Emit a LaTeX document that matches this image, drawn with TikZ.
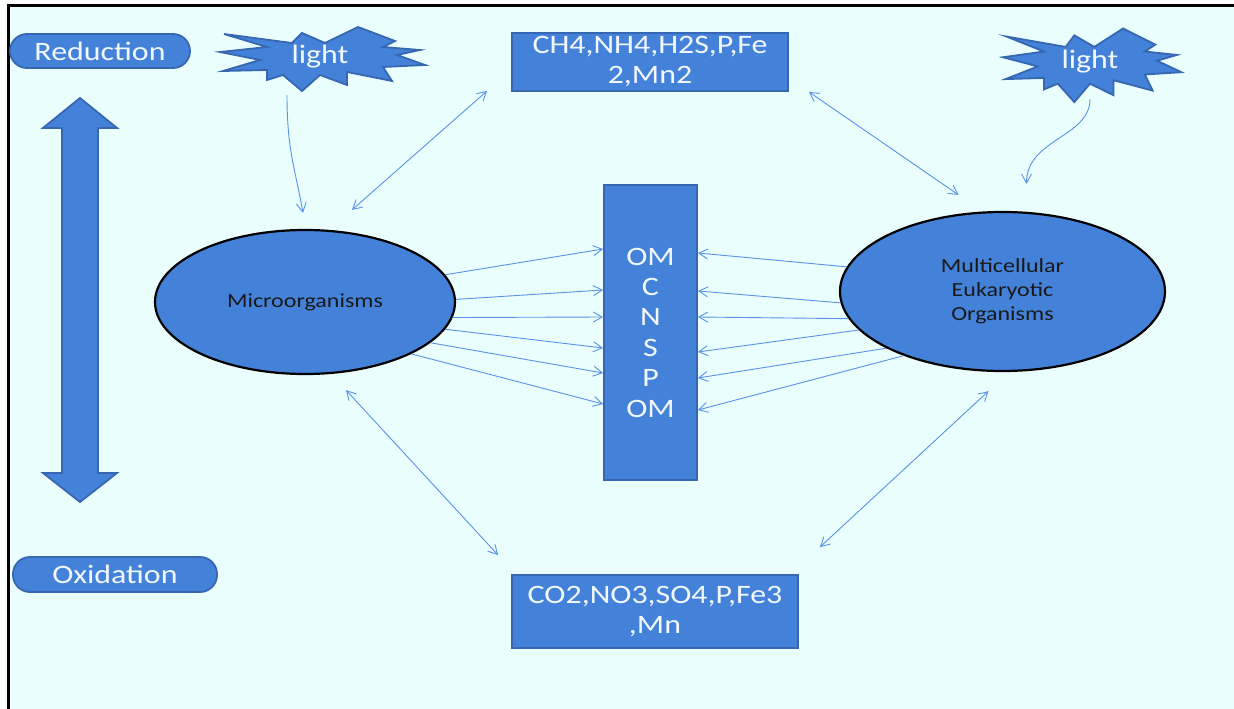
\documentclass[tikz,border=0pt]{standalone}
\usepackage{fontspec}
\setmainfont{Carlito}[FakeStretch=1.2]
\usetikzlibrary{arrows.meta,positioning,shapes.geometric}
\definecolor{sky}{HTML}{EBFEFE}
\definecolor{boxblue}{HTML}{4482DA}
\definecolor{boxedge}{HTML}{3667B0}
\definecolor{linkblue}{HTML}{5A92E6}
\definecolor{paletxt}{HTML}{F2F8FF}

\begin{document}
\begin{tikzpicture}[x=1pt, y=-1pt, >={Straight Barb[length=9pt,width=10pt]},
  box/.style = {draw=boxedge, line width=1.8pt, fill=boxblue, text=paletxt, align=center, inner sep=0pt, font=\fontsize{26.6}{30}\selectfont},
  pill/.style = {box, rounded corners=17pt},
  organism/.style = {ellipse, draw=black, line width=2.2pt, fill=boxblue, text=black!90, align=center, inner sep=0pt, font=\fontsize{20}{24}\selectfont},
  lighttext/.style = {text=paletxt, font=\fontsize{26.6}{30}\selectfont, minimum width=200pt},
  link/.style = {draw=linkblue, line width=0.9pt},
  burst/.pic = {\draw[boxedge, line width=1.8pt, fill=boxblue]
    (-96,-23) -- (-53,-10) -- (-100,-5) -- (-60,3) -- (-97,14) -- (-53,13) -- (-53,23) -- (-37,18)
    -- (-18,34) -- (0,18) -- (27,28) -- (27,15) -- (72,24) -- (63,10) -- (105,8) -- (77,-2)
    -- (100,-7) -- (63,-10) -- (75,-16) -- (38,-30) -- (5,-14) -- (-18,-24) -- (-28,-14) -- cycle;}]

\useasboundingbox (0,0) rectangle (1234,709);
\fill[white] (0,0) rectangle (1234,709);
\fill[sky] (8,6) rectangle (1234,709);
\draw[line width=3pt] (8,709) -- (8,6) -- (1234,6);

% side labels and the big arrow
\node[pill, minimum width=180pt, minimum height=34pt] (reduction) at (100,51) {Reduction};
\node[pill, minimum width=204pt, minimum height=35pt] (oxidation) at (115,574.5) {Oxidation};
\draw[boxedge, line width=1.8pt, fill=boxblue] (80,98) -- (117,128) -- (98,128) -- (98,473) -- (117,473) -- (80,502)
  -- (43,473) -- (62,473) -- (62,128) -- (43,128) -- cycle;

% light
\pic at (320,57) {burst};
\pic[xscale=.87, yscale=1.15] at (1090,63) {burst};
\node[lighttext, minimum height=64pt] (light1) at (320,57) {light};
\node[lighttext, minimum height=74pt] (light2) at (1090,62) {light};

% pools
\node[box, minimum width=276pt, minimum height=58pt] (reduced) at (650,62) {CH4,NH4,H2S,P,Fe\\2,Mn2};
\node[box, minimum width=286pt, minimum height=73pt] (oxidised) at (655,611.5) {CO2,NO3,SO4,P,Fe3\\,Mn};
\node[box, minimum width=93pt, minimum height=295pt, font=\fontsize{26.6}{30.4}\selectfont] (pool) at (650.5,332.5) {OM\\C\\N\\S\\P\\OM};

% organisms
\node[organism, minimum width=300pt, minimum height=144pt] (micro) at (305,302) {Microorganisms};
\node[organism, minimum width=325pt, minimum height=159pt] (multi) at (1002.5,291.5) {Multicellular\\Eukaryotic\\Organisms};

\draw[link,->] ([shift={(-33pt,-6pt)}]light1.south) .. controls +(0pt,-55pt) and +(-8pt,45pt) .. ([shift={(-2pt,16pt)}]micro.north);
\draw[link,->] (light2.south) .. controls +(0pt,-38pt) and +(0pt,45pt) .. ([shift={(24pt,27pt)}]multi.north);

\draw[link,<->] ([shift={(-24pt,1pt)}]reduced.south west) -- ([shift={(47pt,19pt)}]micro.north);
\draw[link,<->] ([xshift=20pt]reduced.south east) -- ([shift={(-44pt,16pt)}]multi.north);
\draw[link,<->] ([shift={(41pt,-15pt)}]micro.south) -- ([shift={(-13pt,19pt)}]oxidised.north west);
\draw[link,<->] ([shift={(-14pt,-19pt)}]multi.south) -- ([shift={(21pt,27pt)}]oxidised.north east);

\foreach \a/\y in {11/249, 1.5/290, -6/317, -11/348, -18/373, -26/404}
  \draw[link,->] (micro.\a) -- (pool.west |- 0,\y);
\foreach \a/\y in {171/253, 184/291, 190/317, 195/352, 206/378, 213/410}
  \draw[link,->] (multi.\a) -- (pool.east |- 0,\y);
\end{tikzpicture}
\end{document}
